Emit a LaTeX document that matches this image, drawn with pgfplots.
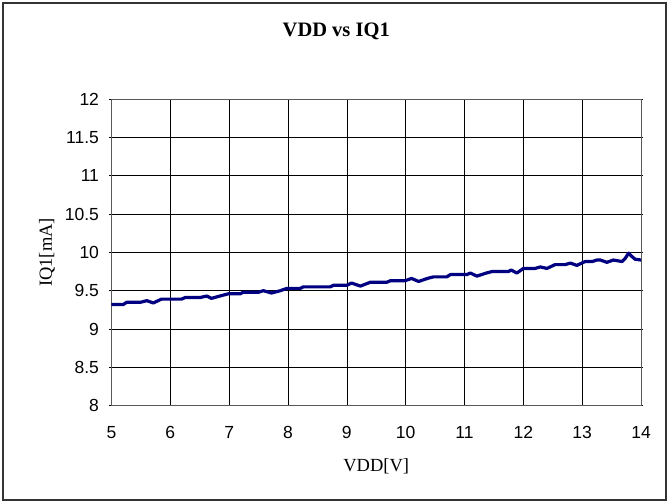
\documentclass[border=0pt]{standalone}
\usepackage{fontspec}
\setmainfont{Liberation Serif}
\newfontfamily\ticksans{Liberation Sans}
\usepackage{pgfplots}
\pgfplotsset{compat=1.18}
\definecolor{navyline}{RGB}{0,0,128}

\begin{document}
\begin{tikzpicture}
\begin{axis}[
    scale only axis,
    width=529.5pt, height=306.7pt,
    xmin=5, xmax=14, ymin=8, ymax=12,
    xtick={5,...,14},
    ytick={8,8.5,...,12},
    grid=major,
    major grid style={black, line width=0.6pt},
    axis line style={black!65, line width=0.9pt},
    x tick style={draw=none},
    y tick style={black, line width=0.6pt},
    tick align=outside,
    major tick length=2pt,
    tick label style={font=\ticksans\fontsize{17.5}{20}\selectfont},
    /pgf/number format/assume math mode=true,
    yticklabel style={xshift=-7pt},
    xticklabel style={yshift=-15pt},
    title={\bfseries VDD vs IQ1},
    title style={font=\fontsize{20.5}{24}\selectfont, at={(axis description cs:0.5,1)}, anchor=base, xshift=-40pt, yshift=57pt},
    xlabel={VDD[V]},
    ylabel={IQ1[mA]},
    label style={font=\fontsize{18.5}{22}\selectfont},
    xlabel style={at={(axis description cs:0.5,0)}, anchor=base, yshift=-66pt},
    ylabel style={at={(axis description cs:0,0.5)}, anchor=base, yshift=59.5pt},
]
\addplot[navyline, line width=3.2pt, line join=round] coordinates {
    (5.00,9.32) (5.20,9.32) (5.26,9.35) (5.50,9.35) (5.60,9.37) (5.71,9.34)
    (5.85,9.39) (6.19,9.39) (6.25,9.41) (6.50,9.41) (6.62,9.43) (6.70,9.40)
    (6.84,9.43) (6.99,9.46) (7.19,9.46) (7.24,9.48) (7.50,9.48) (7.58,9.50)
    (7.72,9.47) (7.87,9.50) (7.98,9.53) (8.21,9.53) (8.26,9.55) (8.72,9.55)
    (8.77,9.57) (9.00,9.57) (9.08,9.60) (9.23,9.56) (9.40,9.61) (9.68,9.61)
    (9.74,9.63) (9.99,9.63) (10.10,9.66) (10.22,9.62) (10.37,9.66) (10.47,9.68)
    (10.70,9.68) (10.76,9.71) (11.04,9.71) (11.10,9.73) (11.21,9.69) (11.37,9.73)
    (11.47,9.75) (11.75,9.75) (11.79,9.77) (11.89,9.73) (12.00,9.79) (12.20,9.79)
    (12.29,9.81) (12.40,9.79) (12.54,9.84) (12.71,9.84) (12.80,9.86) (12.91,9.83)
    (13.05,9.88) (13.17,9.88) (13.25,9.90) (13.31,9.90) (13.42,9.87) (13.53,9.90)
    (13.68,9.88) (13.73,9.92) (13.79,9.99) (13.84,9.95) (13.90,9.91) (14.00,9.90)
};
\end{axis}
\path ([xshift=-111.5pt,yshift=-97.3pt]current axis.south west) rectangle ([xshift=28pt,yshift=99pt]current axis.north east);
\draw[black!80, line width=1.3pt] ([xshift=-108.5pt,yshift=-94.3pt]current axis.south west) rectangle ([xshift=25pt,yshift=96pt]current axis.north east);
\end{tikzpicture}
\end{document}
